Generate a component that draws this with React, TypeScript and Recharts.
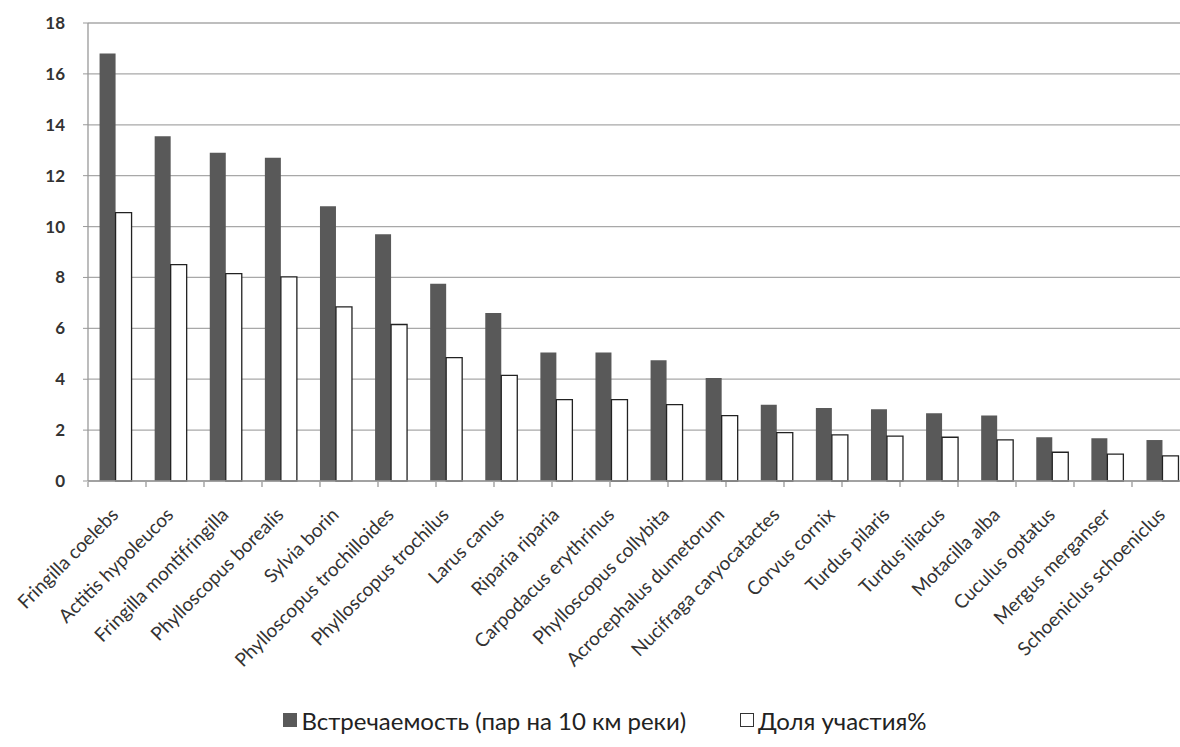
import { BarChart, Bar, XAxis, YAxis, CartesianGrid, Legend } from "recharts";

const species = [
  "Fringilla coelebs", "Actitis hypoleucos", "Fringilla montifringilla", "Phylloscopus borealis",
  "Sylvia borin", "Phylloscopus trochilloides", "Phylloscopus trochilus", "Larus canus",
  "Riparia riparia", "Carpodacus erythrinus", "Phylloscopus collybita", "Acrocephalus dumetorum",
  "Nucifraga caryocatactes", "Corvus cornix", "Turdus pilaris", "Turdus iliacus",
  "Motacilla alba", "Cuculus optatus", "Mergus merganser", "Schoeniclus schoeniclus",
];
const occurrence = [16.8, 13.55, 12.9, 12.7, 10.8, 9.7, 7.75, 6.6, 5.05, 5.05, 4.75, 4.05, 3.0, 2.87, 2.82, 2.66, 2.57, 1.72, 1.68, 1.61];
const share = [10.55, 8.5, 8.15, 8.02, 6.84, 6.15, 4.85, 4.15, 3.2, 3.2, 3.0, 2.57, 1.9, 1.81, 1.76, 1.72, 1.62, 1.13, 1.06, 0.99];
const yTicks = [0, 2, 4, 6, 8, 10, 12, 14, 16, 18];
const boundaryTicks = Array.from({ length: species.length + 1 }, (_, i) => i);

const occName = "Встречаемость (пар на 10 км реки)";
const shareName = "Доля участия%";

const data = species.map((name, i) => ({ name, occ: occurrence[i], share: share[i] }));

const FONT = "Lato, 'Open Sans', sans-serif";

function SpeciesTick({ x, y, payload }: any) {
  return (
    <g transform={`translate(${x + 4},${y + 25})`}>
      <text transform="rotate(-45)" textAnchor="end" fill="#333" fontSize={19} fontFamily={FONT}>
        {payload.value}
      </text>
    </g>
  );
}

function LegendBox() {
  const item = (label: string, box: React.CSSProperties, gap: number) => (
    <span style={{ display: "inline-flex", alignItems: "center", marginRight: gap }}>
      <span style={{ display: "inline-block", width: 14, height: 14, marginRight: 4, ...box }} />
      {label}
    </span>
  );
  return (
    <div style={{ textAlign: "center", fontFamily: FONT, fontSize: 24, color: "#222", paddingLeft: 20 }}>
      {item(occName, { background: "#595959" }, 54)}
      {item(shareName, { background: "#fff", border: "1px solid #333", boxSizing: "border-box" }, 0)}
    </div>
  );
}

export default function App() {
  return (
    <div style={{ position: "absolute", left: 0, top: 0, width: 1180, height: 747, overflow: "hidden", background: "#fff" }}>
      <BarChart
        width={1195}
        height={747}
        data={data}
        margin={{ top: 23, right: 5, left: 0, bottom: 218 }}
        barCategoryGap="21%"
        barGap={0}
      >
        <CartesianGrid vertical={false} stroke="#a8a8a8" strokeWidth={1.3} />
        {/* category axis: labels hang below, height kept tiny so the boundary-tick axis sits right under it */}
        <XAxis
          dataKey="name"
          interval={0}
          tick={<SpeciesTick />}
          tickLine={false}
          tickSize={8}
          axisLine={{ stroke: "#999", strokeWidth: 1.3 }}
          height={1}
        />
        <XAxis
          xAxisId="bounds"
          type="number"
          domain={[0, species.length]}
          ticks={boundaryTicks}
          tick={() => <g />}
          axisLine={false}
          tickLine={{ stroke: "#999", strokeWidth: 1.3 }}
          tickSize={5}
          height={1}
        />
        <YAxis
          domain={[0, 18]}
          ticks={yTicks}
          width={88}
          tick={{ fill: "#333", fontSize: 17, fontFamily: FONT, fontWeight: 700 }}
          tickLine={{ stroke: "#999" }}
          tickSize={5}
          tickMargin={18}
          axisLine={{ stroke: "#999", strokeWidth: 1.3 }}
        />
        <Legend
          verticalAlign="bottom"
          height={46}
          content={<LegendBox />}
          wrapperStyle={{ top: 703, bottom: "auto" }}
        />
        <Bar dataKey="occ" name={occName} fill="#595959" isAnimationActive={false} />
        <Bar dataKey="share" name={shareName} fill="#fff" stroke="#222" strokeWidth={1.3} isAnimationActive={false} />
      </BarChart>
    </div>
  );
}
